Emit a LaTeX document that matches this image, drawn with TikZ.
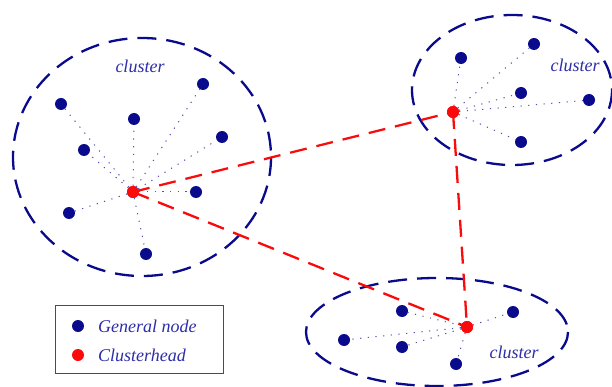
\documentclass[tikz,border=0pt]{standalone}
\usepackage{fontspec}
\setmainfont{Liberation Serif}
\begin{document}
\begin{tikzpicture}[x=1pt,y=-1pt,
  every node/.style={inner sep=0pt},
  gen/.style={circle,fill=navy,minimum size=12pt},
  head/.style={circle,fill=chred,minimum size=12pt},
  clus/.style={draw=navy,line width=2.3pt,dash pattern=on 19pt off 10pt},
  link/.style={draw=chred,line width=2.3pt,dash pattern=on 17pt off 10pt},
  member/.style={draw=navy!70,line width=1pt,dash pattern=on 1.2pt off 6.5pt},
  lbl/.style={text=txtblue,font=\fontsize{18}{20}\selectfont\itshape}]
\definecolor{navy}{RGB}{10,10,140}
\definecolor{chred}{RGB}{250,10,10}
\definecolor{txtblue}{RGB}{45,45,170}
\definecolor{boxblue}{RGB}{70,60,170}
\useasboundingbox (0,0) rectangle (612,387);
% cluster outlines
\draw[clus] (142,157) ellipse [x radius=129, y radius=119];
\draw[clus] (512,90) ellipse [x radius=100, y radius=75];
\draw[clus] (437,332) ellipse [x radius=131, y radius=54];
\node[lbl] (l1) at (140,66) {cluster};
\node[lbl] (l2) at (575,65) {cluster};
\node[lbl] (l3) at (514,352) {cluster};
% cluster 1
\node[head] (h1) at (133,192) {};
\node[gen] (a1) at (61,104) {};
\node[gen] (a2) at (134,119) {};
\node[gen] (a3) at (203,84) {};
\node[gen] (a4) at (222,137) {};
\node[gen] (a5) at (84,150) {};
\node[gen] (a6) at (196,192) {};
\node[gen] (a7) at (69,213) {};
\node[gen] (a8) at (146,254) {};
\foreach \n in {a1,a2,a3,a4,a5,a6,a7,a8} \draw[member] (h1) -- (\n);
% cluster 2
\node[head] (h2) at (453,112) {};
\node[gen] (b1) at (461,58) {};
\node[gen] (b2) at (534,44) {};
\node[gen] (b3) at (521,93) {};
\node[gen] (b4) at (589,100) {};
\node[gen] (b5) at (521,142) {};
\foreach \n in {b1,b2,b3,b4,b5} \draw[member] (h2) -- (\n);
% cluster 3
\node[head] (h3) at (467,327) {};
\node[gen] (c1) at (402,311) {};
\node[gen] (c2) at (344,340) {};
\node[gen] (c3) at (402,347) {};
\node[gen] (c4) at (456,364) {};
\node[gen] (c5) at (513,312) {};
\foreach \n in {c1,c2,c3,c4,c5} \draw[member] (h3) -- (\n);
% links between clusterheads
\draw[link] (h1.center) -- (h2.center);
\draw[link] (h1.center) -- (h3.center);
\draw[link] (h2.center) -- (h3.center);
\node[head] at (h1) {};
\node[head] at (h2) {};
\node[head] at (h3) {};
% legend
\node[draw=boxblue,line width=0.8pt,minimum width=168pt,minimum height=68pt] (leg) at (139,339) {};
\node[gen] (lg) at (78,326) {};
\node[head] (lh) at (78,355) {};
\node[lbl,anchor=west] (lgt) at (98,326) {General node};
\node[lbl,anchor=west] (lht) at (98,355) {Clusterhead};
\end{tikzpicture}
\end{document}
